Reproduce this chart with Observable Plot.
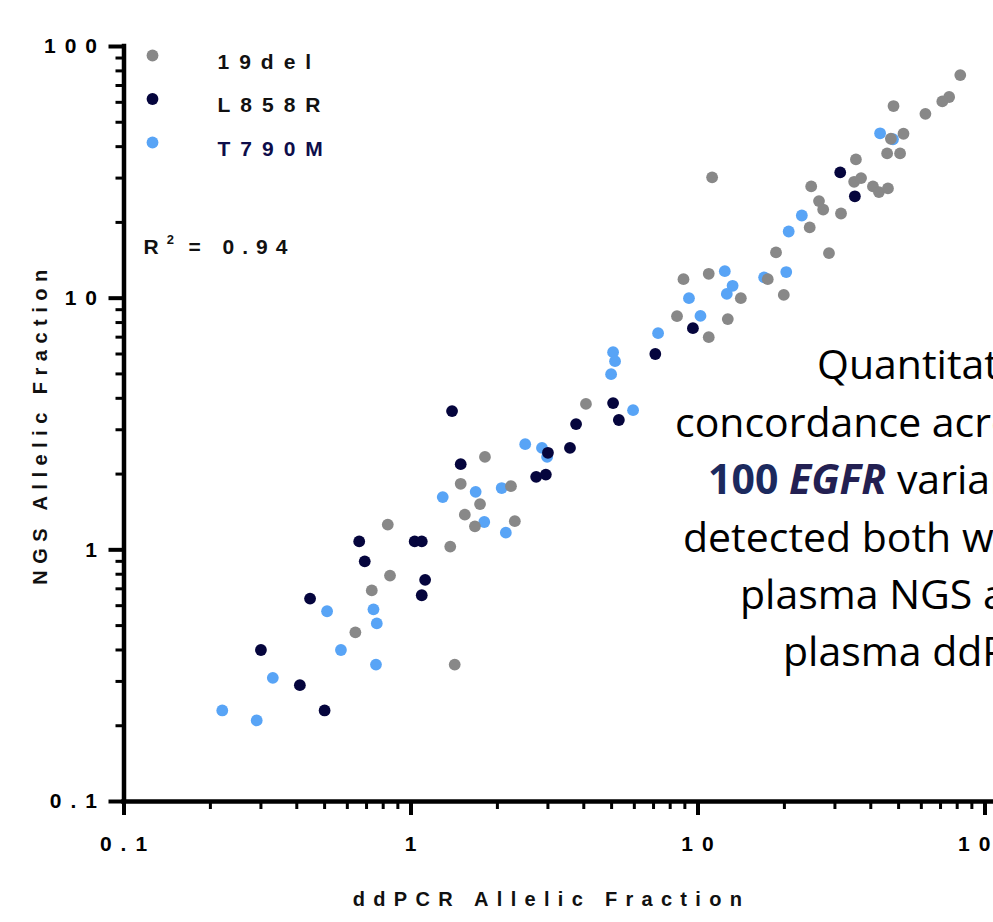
<!DOCTYPE html>
<html>
<head>
<meta charset="utf-8">
<script src="https://cdn.jsdelivr.net/npm/d3@7"></script>
<script src="https://cdn.jsdelivr.net/npm/@observablehq/plot@0.6"></script>
<style>
  html, body { margin: 0; padding: 0; background: #fff; overflow: hidden; }
  #chart { position: relative; width: 993px; height: 922px; overflow: hidden; background: #fff; }
  #chart svg { display: block; }
</style>
</head>
<body>
<div id="chart"></div>
<script>
// ---- data ----
const seriesNames = ["19del", "L858R", "T790M"];
const seriesColors = ["#888888", "#05053d", "#58a4f6"];
const labelColors = ["#111111", "#111111", "#0d0d4a"];

const del19_ddpcr = [82, 75, 71, 48, 62, 52, 47, 45.6, 50.6, 35.5, 35, 37, 40.7, 42.7, 45.9, 24.8, 26.4, 27.3, 31.5, 24.5, 11.2, 18.7, 28.6, 8.9, 10.9, 14.1, 17.5, 19.9, 8.45, 12.7, 10.9, 4.07, 1.81, 1.49, 2.23, 1.74, 1.54, 1.67, 2.30, 0.83, 1.37, 0.845, 0.73, 0.64, 1.42];
const del19_ngs   = [77, 63, 60.5, 58, 54, 45, 43, 37.6, 37.6, 35.6, 29, 30, 27.8, 26.4, 27.3, 27.8, 24.3, 22.5, 21.7, 19.1, 30.2, 15.2, 15.1, 11.9, 12.5, 10.0, 11.9, 10.3, 8.48, 8.26, 7.0, 3.80, 2.34, 1.83, 1.79, 1.52, 1.38, 1.24, 1.30, 1.26, 1.03, 0.79, 0.69, 0.47, 0.35];

const l858r_ddpcr = [31.3, 35.2, 9.6, 7.1, 5.06, 5.3, 3.76, 1.39, 3.0, 3.58, 1.49, 2.73, 2.95, 0.66, 1.03, 1.09, 0.69, 1.12, 1.09, 0.445, 0.30, 0.41, 0.50];
const l858r_ngs   = [31.6, 25.4, 7.6, 6.0, 3.83, 3.28, 3.16, 3.56, 2.43, 2.54, 2.19, 1.95, 1.99, 1.08, 1.08, 1.08, 0.90, 0.76, 0.66, 0.64, 0.40, 0.29, 0.23];

const t790m_ddpcr = [43.1, 47.8, 23.0, 20.7, 12.4, 13.2, 12.6, 17.0, 20.3, 9.3, 10.2, 7.26, 5.06, 5.14, 4.98, 5.94, 2.50, 2.86, 2.98, 1.68, 1.29, 2.07, 1.80, 2.14, 0.51, 0.74, 0.76, 0.57, 0.755, 0.33, 0.22, 0.29];
const t790m_ngs   = [45.2, 42.8, 21.3, 18.4, 12.8, 11.2, 10.4, 12.1, 12.7, 10.0, 8.5, 7.26, 6.1, 5.62, 4.99, 3.59, 2.63, 2.54, 2.34, 1.70, 1.62, 1.76, 1.29, 1.17, 0.57, 0.58, 0.51, 0.40, 0.35, 0.31, 0.23, 0.21];

const xTicksMajor = [0.1, 1, 10, 100];
const xTicksMinor = [0.2, 0.3, 0.4, 0.5, 0.6, 0.7, 0.8, 0.9, 2, 3, 4, 5, 6, 7, 8, 9, 20, 30, 40, 50, 60, 70, 80, 90];
const yTicksMajor = [0.1, 1, 10, 100];
const yTicksMinor = [0.2, 0.3, 0.4, 0.5, 0.6, 0.7, 0.8, 0.9, 2, 3, 4, 5, 6, 7, 8, 9, 20, 30, 40, 50, 60, 70, 80, 90];

const xTitle = "ddPCR Allelic Fraction";
const yTitle = "NGS Allelic Fraction";
const r2Parts = ["R", "2", "= 0.94"];

// annotation text (segments: [text, style])
const noteLines = [
  [["Quantitative", "n"]],
  [["concordance across", "n"]],
  [["100 ", "b"], ["EGFR", "bi"], [" variants", "n"]],
  [["detected both with", "n"]],
  [["plasma NGS and", "n"]],
  [["plasma ddPCR", "n"]]
];

// ---- build table ----
const toRows = (xs, ys, s) => xs.map((x, i) => ({ddpcr: x, ngs: ys[i], series: s}));
const rows19 = toRows(del19_ddpcr, del19_ngs, seriesNames[0]);
const rowsL = toRows(l858r_ddpcr, l858r_ngs, seriesNames[1]);
const rowsT = toRows(t790m_ddpcr, t790m_ngs, seriesNames[2]);

const W = 1045;
const mLeft = 123.5, xRight = 984.5, mTop = 46, yBottom = 801;
const fmt = d3.format("~g");
const font = "'Liberation Sans', Arial, Helvetica, sans-serif";
const R = 5.9;

const legendMarks = seriesNames.flatMap((name, i) => [
  Plot.dot([name], {frameAnchor: "top-left", dx: 28.5, dy: 9 + i * 43.5, r: R, fill: seriesColors[i]}),
  Plot.text([name], {frameAnchor: "top-left", dx: 93.5, dy: 22 + i * 43.5, text: d => d, textAnchor: "start", lineAnchor: "bottom",
    fontSize: 21, fontWeight: "bold", fill: labelColors[i]})
]);

const chart = Plot.plot({
  width: W,
  height: 922,
  marginLeft: mLeft,
  marginRight: W - xRight,
  marginTop: mTop,
  marginBottom: 922 - yBottom,
  style: {background: "white", overflow: "visible", maxWidth: "none", fontFamily: font, color: "#000"},
  x: {type: "log", domain: [0.1, 100]},
  y: {type: "log", domain: [0.1, 100]},
  marks: [
    Plot.axisY(yTicksMinor, {tickSize: 8, strokeWidth: 3, tickFormat: () => "", label: null}),
    Plot.axisY(yTicksMajor, {tickSize: 15, tickPadding: 3, strokeWidth: 4, tickFormat: fmt, label: null,
      fontSize: 21, fontWeight: "bold", fontFamily: font}),
    Plot.axisX(xTicksMinor, {tickSize: 8, strokeWidth: 3, tickFormat: () => "", label: null}),
    Plot.axisX(xTicksMajor, {tickSize: 14, strokeWidth: 4, tickFormat: () => "", label: null}),
    Plot.axisX(xTicksMajor, {tickSize: 0, tickPadding: 35, tickFormat: fmt, label: null, dx: 4,
      fontSize: 21, fontWeight: "bold", fontFamily: font}),
    Plot.ruleX([0.1], {y1: 0.1, y2: 100, stroke: "#000", strokeWidth: 4.5, strokeLinecap: "square"}),
    Plot.ruleY([0.1], {x1: 0.1, x2: 200, stroke: "#000", strokeWidth: 4.5, strokeLinecap: "square"}),
    Plot.dot(rowsT, {x: "ddpcr", y: "ngs", r: R, fill: seriesColors[2]}),
    Plot.dot(rows19, {x: "ddpcr", y: "ngs", r: R, fill: seriesColors[0]}),
    Plot.dot(rowsL, {x: "ddpcr", y: "ngs", r: R, fill: seriesColors[1]}),
    ...legendMarks,
    Plot.text([r2Parts.join("")], {frameAnchor: "top-left", dx: 19.5, dy: 207, text: d => d, textAnchor: "start", lineAnchor: "bottom",
      fontSize: 21, fontWeight: "bold", fill: "#111"}),
    Plot.text([yTitle], {frameAnchor: "left", dx: -83.5, rotate: -90, text: d => d, textAnchor: "middle", lineAnchor: "middle",
      fontSize: 20, fontWeight: "bold", fill: "#111"}),
    Plot.text([xTitle], {frameAnchor: "bottom", dx: -3, dy: 98, text: d => d, textAnchor: "middle", lineAnchor: "middle",
      fontSize: 20, fontWeight: "bold", fill: "#111"})
  ]
});

document.getElementById("chart").appendChild(chart);

// letter spacing like the original (wide-tracked bold labels)
const svg = d3.select(chart);
svg.selectAll("text").each(function() {
  const t = this.textContent;
  let ls = "9px";
  if (t === xTitle) ls = "8.3px";
  else if (t === yTitle) ls = "6.5px";
  else if (seriesNames.includes(t)) ls = "10px";
  else if (t === r2Parts.join("")) {
    ls = "8px";
    const el = d3.select(this);
    el.text(null);
    el.append("tspan").text(r2Parts[0]);
    el.append("tspan").text(r2Parts[1]).attr("font-size", 13).attr("dy", -10);
    el.append("tspan").text(r2Parts[2]).attr("dy", 10).attr("dx", 6.6);
  }
  d3.select(this).style("letter-spacing", ls);
});

// annotation block on the right, clipped by the picture edge
const noteX = [817, 675, 708, 683, 740, 783];
const noteY = [379, 437, 494, 552, 609, 666];
const g = svg.append("g").attr("font-family", "'Open Sans', 'Noto Sans', sans-serif").attr("font-size", 41)
  .attr("text-anchor", "start");
noteLines.forEach((segs, i) => {
  const t = g.append("text").attr("x", noteX[i]).attr("y", noteY[i]).attr("fill", "#000")
    .attr("text-anchor", "start").style("letter-spacing", "0px");
  segs.forEach(([s, st]) => {
    const sp = t.append("tspan").text(s);
    if (st === "b") sp.attr("font-weight", "bold").attr("fill", "#1c2a5e");
    if (st === "bi") sp.attr("font-weight", "bold").attr("font-style", "italic").attr("fill", "#232052");
  });
});
</script>
</body>
</html>
